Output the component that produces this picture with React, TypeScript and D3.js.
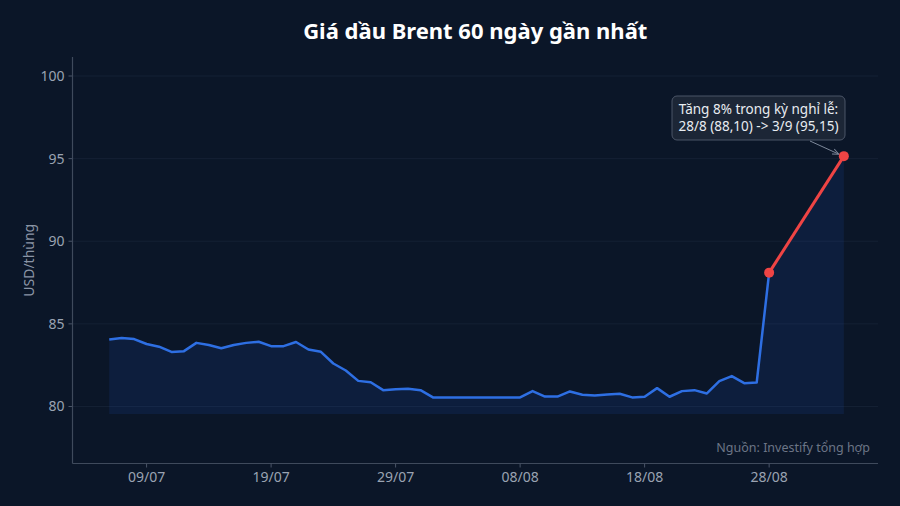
import React from "react";
import * as d3 from "d3";

const dates: string[] = [
  "06/07","07/07","08/07","09/07","10/07","11/07","12/07","13/07","14/07","15/07",
  "16/07","17/07","18/07","19/07","20/07","21/07","22/07","23/07","24/07","25/07",
  "26/07","27/07","28/07","29/07","30/07","31/07","01/08","02/08","03/08","04/08",
  "05/08","06/08","07/08","08/08","09/08","10/08","11/08","12/08","13/08","14/08",
  "15/08","16/08","17/08","18/08","19/08","20/08","21/08","22/08","23/08","24/08",
  "25/08","26/08","27/08","28/08",
];
const prices: number[] = [
  84.05, 84.15, 84.08, 83.78, 83.62, 83.3, 83.35, 83.85, 83.72, 83.52,
  83.72, 83.85, 83.92, 83.65, 83.65, 83.9, 83.45, 83.31, 82.6, 82.18,
  81.55, 81.47, 80.99, 81.05, 81.07, 80.99, 80.55, 80.55, 80.55, 80.55,
  80.55, 80.55, 80.55, 80.55, 80.93, 80.6, 80.6, 80.91, 80.71, 80.67,
  80.73, 80.77, 80.55, 80.59, 81.11, 80.59, 80.93, 80.99, 80.79, 81.53,
  81.84, 81.41, 81.45, 88.1,
];
const holidayDates: string[] = ["28/08", "03/09"];
const holidayPrices: number[] = [88.1, 95.15];
const yTicks: number[] = [80, 85, 90, 95, 100];
const xTickLabels: string[] = ["09/07", "19/07", "29/07", "08/08", "18/08", "28/08"];

const title = "Giá dầu Brent 60 ngày gần nhất";
const yLabel = "USD/thùng";
const source = "Nguồn: Investify tổng hợp";
const noteLines: string[] = ["Tăng 8% trong kỳ nghỉ lễ:", "28/8 (88,10) -> 3/9 (95,15)"];

const parse = (s: string) => {
  const [d, m] = s.split("/").map(Number);
  return new Date(2023, m - 1, d);
};

const W = 900;
const H = 506;
const left = 72.5;
const right = 878;
const top = 57;
const bottom = 463.5;
const FONT = "'Noto Sans', 'Open Sans', sans-serif";

export default function App() {
  const blue = dates.map((d, i) => ({ date: parse(d), v: prices[i] }));
  const red = holidayDates.map((d, i) => ({ date: parse(d), v: holidayPrices[i] }));
  const all = [...blue, red[1]];

  const first = all[0].date.getTime();
  const last = all[all.length - 1].date.getTime();
  const pad = (last - first) * 0.05;
  const x = d3
    .scaleTime()
    .domain([new Date(first - pad), new Date(last + pad * 0.93)])
    .range([left, right]);
  const vMin = d3.min(all, (d) => d.v) as number;
  const vMax = d3.max(all, (d) => d.v) as number;
  const y = d3.scaleLinear().domain([vMin - 4, vMax + 6]).range([bottom, top]);

  const line = d3.line<{ date: Date; v: number }>().x((d) => x(d.date)).y((d) => y(d.v));
  const area = d3
    .area<{ date: Date; v: number }>()
    .x((d) => x(d.date))
    .y0(y(vMin - 1))
    .y1((d) => y(d.v));

  const p1 = red[1];
  const px = x(p1.date);
  const py = y(p1.v);
  const boxX = 672;
  const boxY = 96;
  const boxW = 173;
  const boxH = 44;

  return (
    <svg
      width={W}
      height={H}
      style={{ position: "fixed", left: 0, top: 0, background: "#0b1628" }}
      fontFamily={FONT}
    >
      <defs>
        <marker id="arr" viewBox="0 0 10 10" refX="9" refY="5" markerWidth="7" markerHeight="7" orient="auto">
          <path d="M0,1 L9,5 L0,9" fill="none" stroke="#7d889a" strokeWidth="1.4" />
        </marker>
      </defs>
      <rect x={0} y={0} width={W} height={H} fill="#0b1628" />
      <text x={(left + right) / 2} y={39} textAnchor="middle" fill="#ffffff" fontSize={22} fontWeight={700}>
        {title}
      </text>

      {yTicks.map((t) => (
        <g key={t}>
          <line x1={left} x2={right} y1={y(t)} y2={y(t)} stroke="#152134" strokeWidth={1} />
          <line x1={left - 4} x2={left} y1={y(t)} y2={y(t)} stroke="#4a5568" />
          <text x={left - 8} y={y(t)} dy="0.35em" textAnchor="end" fill="#9aa3b2" fontSize={14}>
            {t}
          </text>
        </g>
      ))}

      <path d={area(all) || ""} fill="#2563eb" fillOpacity={0.11} />
      <path d={line(blue) || ""} fill="none" stroke="#2e6fe3" strokeWidth={2.5} strokeLinejoin="round" />
      <path d={line(red) || ""} fill="none" stroke="#ef4444" strokeWidth={3} />
      {red.map((d, i) => (
        <circle key={i} cx={x(d.date)} cy={y(d.v)} r={5} fill="#ef4444" />
      ))}

      <line x1={left} x2={left} y1={top} y2={bottom} stroke="#3f4a5c" strokeWidth={1.2} />
      <line x1={left} x2={right} y1={bottom} y2={bottom} stroke="#3f4a5c" strokeWidth={1.2} />
      {xTickLabels.map((s) => {
        const tx = x(parse(s));
        return (
          <g key={s}>
            <line x1={tx} x2={tx} y1={bottom} y2={bottom + 4} stroke="#4a5568" />
            <text x={tx} y={bottom + 18} textAnchor="middle" fill="#9aa3b2" fontSize={14}>
              {s}
            </text>
          </g>
        );
      })}

      <text
        transform={`translate(34,${(top + bottom) / 2}) rotate(-90)`}
        textAnchor="middle"
        fill="#8a94a5"
        fontSize={14}
      >
        {yLabel}
      </text>

      <text x={870} y={452} textAnchor="end" fill="#6b7586" fontSize={12.5}>
        {source}
      </text>

      <rect x={boxX} y={boxY} width={boxW} height={boxH} rx={5} fill="#1c2636" stroke="#4b5567" strokeWidth={1} />
      {noteLines.map((l, i) => (
        <text key={i} x={boxX + boxW / 2} y={boxY + 18 + i * 17} textAnchor="middle" fill="#e8ecf1" fontSize={13.5}>
          {l}
        </text>
      ))}
      <line x1={810} y1={boxY + boxH + 1} x2={px - 5} y2={py - 2} stroke="#7d889a" strokeWidth={1} markerEnd="url(#arr)" />
    </svg>
  );
}
